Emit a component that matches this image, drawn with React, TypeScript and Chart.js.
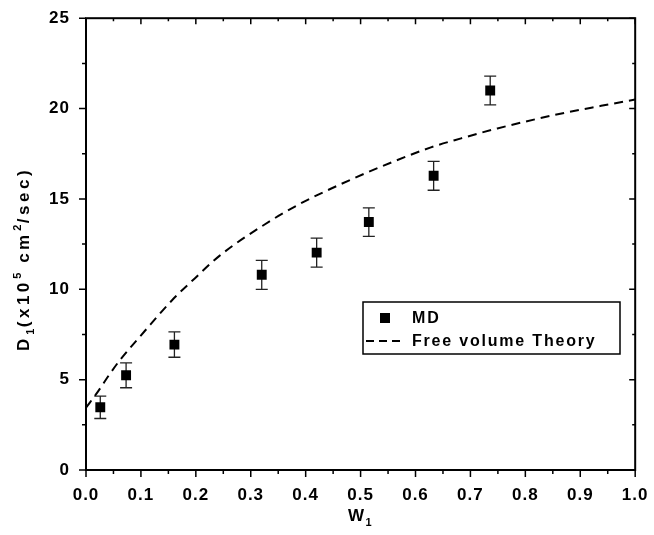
import React, { useEffect, useRef } from 'react';
import { Chart, registerables } from 'chart.js';

Chart.register(...registerables);

// ---- data ----
const mdW = [0.026, 0.073, 0.161, 0.32, 0.42, 0.515, 0.633, 0.736];
const mdD = [3.47, 5.24, 6.94, 10.8, 12.03, 13.72, 16.28, 21.0];
const mdErr = [0.62, 0.69, 0.7, 0.8, 0.8, 0.79, 0.8, 0.8];

const theoryW = [0, 0.022, 0.043, 0.061, 0.107, 0.16, 0.198, 0.243, 0.326, 0.391, 0.417, 0.515, 0.628, 0.683, 0.749, 0.854, 0.938, 1.0];
const theoryD = [3.45, 4.35, 5.3, 6.05, 7.69, 9.5, 10.6, 11.85, 13.6, 14.75, 15.15, 16.5, 17.85, 18.35, 18.9, 19.65, 20.15, 20.5];

const xTicks = [0, 0.1, 0.2, 0.3, 0.4, 0.5, 0.6, 0.7, 0.8, 0.9, 1.0];
const xMinorStep = 0.05;
const yTicks = [0, 5, 10, 15, 20, 25];
const yMinorStep = 2.5;

const seriesLabels = ['MD', 'Free volume Theory'];
const xTitleParts: [string, string][] = [['W', 'n'], ['1', 'sub']];
const yTitleParts: [string, string][] = [
  ['D', 'n'], ['1', 'sub'], ['(x10', 'n'], ['5', 'sup'], [' cm', 'n'], ['2', 'sup'], ['/sec)', 'n'],
];

const FONT = '"Liberation Sans", Arial, sans-serif';

function drawParts(ctx: CanvasRenderingContext2D, parts: [string, string][], cx: number, cy: number, size: number, spacing: number) {
  const small = Math.round(size * 0.62);
  const measure = (t: string, s: string) => {
    ctx.font = `bold ${s === 'n' ? size : small}px ${FONT}`;
    (ctx as any).letterSpacing = `${s === 'n' ? spacing : 1}px`;
    return ctx.measureText(t).width;
  };
  const widths = parts.map(([t, s]) => measure(t, s) + (s === 'n' ? 0 : 1));
  const total = widths.reduce((a, b) => a + b, 0);
  let x = cx - total / 2;
  ctx.textAlign = 'left';
  ctx.textBaseline = 'alphabetic';
  const base = cy + size * 0.36;
  parts.forEach(([t, s], i) => {
    ctx.font = `bold ${s === 'n' ? size : small}px ${FONT}`;
    (ctx as any).letterSpacing = `${s === 'n' ? spacing : 1}px`;
    let y = base;
    if (s === 'sub') y = base + size * 0.28;
    if (s === 'sup') y = base - size * 0.5;
    ctx.fillText(t, x + (s === 'n' ? 0 : 0.5), y);
    x += widths[i];
  });
  (ctx as any).letterSpacing = '0px';
}

const decorPlugin = {
  id: 'decor',
  beforeDraw(chart: any) {
    (chart.ctx as any).letterSpacing = '1px';
  },
  beforeDatasetsDraw(chart: any) {
    const ctx = chart.ctx as CanvasRenderingContext2D;
    (ctx as any).letterSpacing = '0px';
    const xs = chart.scales.x;
    const ys = chart.scales.y;
    ctx.save();
    ctx.strokeStyle = '#222';
    ctx.lineWidth = 1.3;
    mdW.forEach((w, i) => {
      const px = xs.getPixelForValue(w);
      const top = ys.getPixelForValue(mdD[i] + mdErr[i]);
      const bot = ys.getPixelForValue(mdD[i] - mdErr[i]);
      ctx.beginPath();
      ctx.moveTo(px, top);
      ctx.lineTo(px, bot);
      ctx.moveTo(px - 6, top);
      ctx.lineTo(px + 6, top);
      ctx.moveTo(px - 6, bot);
      ctx.lineTo(px + 6, bot);
      ctx.stroke();
    });
    ctx.restore();
  },
  afterDraw(chart: any) {
    const ctx = chart.ctx as CanvasRenderingContext2D;
    (ctx as any).letterSpacing = '0px';
    const { left, right, top, bottom } = chart.chartArea;
    const xs = chart.scales.x;
    const ys = chart.scales.y;
    ctx.save();
    ctx.strokeStyle = '#000';
    ctx.fillStyle = '#000';
    // frame
    ctx.lineWidth = 2;
    ctx.strokeRect(left, top, right - left, bottom - top);
    // ticks
    ctx.lineWidth = 1.5;
    for (let i = 0; i <= Math.round((xs.max - xs.min) / xMinorStep); i++) {
      const v = xs.min + i * xMinorStep;
      const major = i % 2 === 0;
      const px = xs.getPixelForValue(v);
      ctx.beginPath();
      ctx.moveTo(px, bottom);
      ctx.lineTo(px, bottom + (major ? 7 : 4));
      ctx.moveTo(px, top);
      ctx.lineTo(px, top + (major ? 6 : 3));
      ctx.stroke();
    }
    for (let i = 0; i <= Math.round((ys.max - ys.min) / yMinorStep); i++) {
      const v = ys.min + i * yMinorStep;
      const major = i % 2 === 0;
      const py = ys.getPixelForValue(v);
      ctx.beginPath();
      ctx.moveTo(left, py);
      ctx.lineTo(left - (major ? 7 : 4), py);
      ctx.moveTo(right, py);
      ctx.lineTo(right - (major ? 6 : 3), py);
      ctx.stroke();
    }
    // titles
    drawParts(ctx, xTitleParts, (left + right) / 2, 515, 17, 1);
    ctx.save();
    ctx.translate(23, 259);
    ctx.rotate(-Math.PI / 2);
    drawParts(ctx, yTitleParts, 0, 0, 17, 3.5);
    ctx.restore();

    // legend
    const bx = 363, by = 302, bw = 257, bh = 52;
    ctx.fillStyle = '#fff';
    ctx.fillRect(bx, by, bw, bh);
    ctx.lineWidth = 1.5;
    ctx.strokeStyle = '#000';
    ctx.strokeRect(bx, by, bw, bh);
    ctx.fillStyle = '#000';
    ctx.fillRect(385 - 5, 318 - 5, 10, 10);
    ctx.beginPath();
    ctx.setLineDash([8, 5]);
    ctx.lineWidth = 2;
    ctx.moveTo(366, 341);
    ctx.lineTo(405, 341);
    ctx.stroke();
    ctx.setLineDash([]);
    ctx.font = `bold 16px ${FONT}`;
    (ctx as any).letterSpacing = '1.8px';
    ctx.textAlign = 'left';
    ctx.textBaseline = 'middle';
    ctx.fillText(seriesLabels[0], 412, 319);
    ctx.fillText(seriesLabels[1], 412, 342);
    (ctx as any).letterSpacing = '0px';
    ctx.restore();
  },
};

export default function App() {
  const ref = useRef<HTMLCanvasElement>(null);
  useEffect(() => {
    if (!ref.current) return;
    const tickFont = { family: FONT, size: 17, weight: 'bold' as const };
    const chart = new Chart(ref.current, {
      type: 'scatter',
      data: {
        datasets: [
          {
            label: seriesLabels[0],
            data: mdW.map((w, i) => ({ x: w, y: mdD[i] })),
            pointStyle: 'rect',
            pointRadius: 7,
            backgroundColor: '#000',
            borderColor: '#000',
            borderWidth: 0,
            showLine: false,
          },
          {
            label: seriesLabels[1],
            data: theoryW.map((w, i) => ({ x: w, y: theoryD[i] })),
            showLine: true,
            pointRadius: 0,
            borderColor: '#000',
            borderWidth: 2,
            borderDash: [9, 6],
            cubicInterpolationMode: 'monotone',
            fill: false,
          } as any,
        ],
      },
      options: {
        animation: false,
        responsive: true,
        maintainAspectRatio: false,
        layout: { padding: { left: 0, top: 17, right: 13, bottom: 0 } },
        plugins: { legend: { display: false }, tooltip: { enabled: false } },
        scales: {
          x: {
            type: 'linear',
            min: 0,
            max: 1,
            afterBuildTicks: (s: any) => { s.ticks = xTicks.map((v) => ({ value: v })); },
            afterFit: (s: any) => { s.height = 65; },
            grid: { display: false },
            border: { display: false },
            ticks: {
              font: tickFont,
              color: '#000',
              padding: 7,
              maxRotation: 0,
              autoSkip: false,
              callback: (v: any) => Number(v).toFixed(1),
            },
          },
          y: {
            type: 'linear',
            min: 0,
            max: 25,
            afterBuildTicks: (s: any) => { s.ticks = yTicks.map((v) => ({ value: v })); },
            afterFit: (s: any) => { s.width = 86; },
            grid: { display: false },
            border: { display: false },
            ticks: {
              font: tickFont,
              color: '#000',
              padding: 8,
              autoSkip: false,
              callback: (v: any) => String(v),
            },
          },
        },
      },
      plugins: [decorPlugin],
    });
    return () => chart.destroy();
  }, []);
  return (
    <div style={{ position: 'fixed', left: 0, top: 0, width: 654, height: 535, background: '#fff' }}>
      <canvas ref={ref} />
    </div>
  );
}
